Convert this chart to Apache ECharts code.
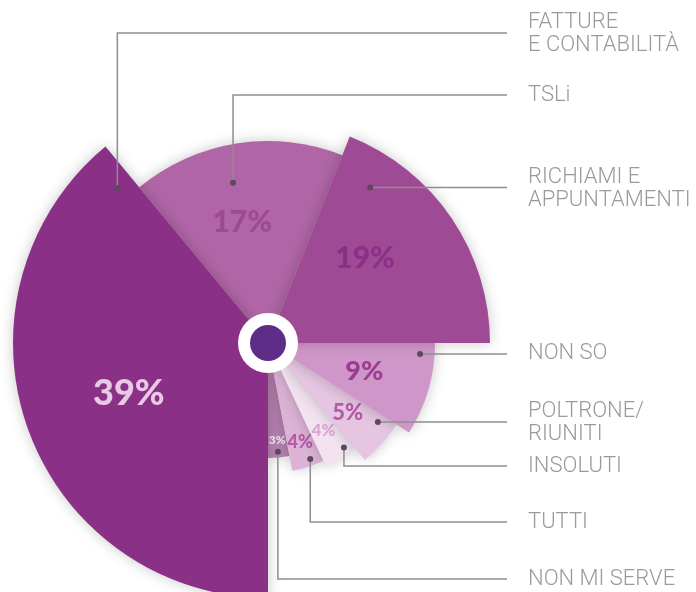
<!DOCTYPE html>
<html>
<head>
<meta charset="utf-8">
<script src="https://cdn.jsdelivr.net/npm/echarts@6/dist/echarts.min.js"></script>
<style>
html, body { margin: 0; padding: 0; background: #fff; }
#main { width: 696px; height: 592px; }
</style>
</head>
<body>
<div id="main"></div>
<script>
// dati
var categories = ['FATTURE\nE CONTABILITÀ', 'TSLi', 'RICHIAMI E\nAPPUNTAMENTI', 'NON SO',
	'POLTRONE/\nRIUNITI', 'INSOLUTI', 'TUTTI', 'NON MI SERVE'];
var values = [39, 17, 19, 9, 5, 4, 4, 3];

// stile
var colors = ['#8b3087', '#b066a6', '#9e4a94', '#cf97c9', '#e5c5e1', '#f3e3f1', '#dcb3d7', '#b682b0'];
var labelColors = ['#e8c9e6', '#9c4a93', '#8a3187', '#9b3d93', '#b35aa8', '#d9a6d3', '#b35aa8', '#f7eaf5'];
var radii = [255, 202, 222, 167, 152, 136, 130, 115];
var fontSizes = [36, 30, 30, 27, 22, 17, 18, 12];
var labelPos = [[0.5, 0.58], [0.45, 0.61], [0.4, 0.58], [0.5, 0.6], [0.5, 0.7], [0.5, 0.76], [0.5, 0.8], [0.5, 0.85]];
var dotPos = [[0.967, 0.847], [0.446, 0.812], [0.171, 0.838], [0.127, 0.913], [0.183, 0.89], [0.25, 0.95], [0.36, 0.95], [0.52, 0.95]];
var textY = [33, 95, null, null, null, 466, 522, 579]; // null = linea orizzontale dal punto
var zOrder = [9, 2, 8, 7, 6, 5, 4, 3];
var center = [268, 343];
var lineEndX = 507, textX = 528;

// angolo (gradi, orario dalle ore 12) di un punto dentro la fetta i
var cum = [];
values.reduce(function (s, v, i) { cum[i] = s; return s + v; }, 0);
function angleOf(i, frac) {
	return 180 + (cum[i] + frac * values[i]) * 3.6;
}
function pointOf(a, r) {
	var rad = a * Math.PI / 180;
	return [center[0] + r * Math.sin(rad), center[1] - r * Math.cos(rad)];
}

var series = values.map(function (v, i) {
	return {
		type: 'pie',
		center: center,
		radius: [0, radii[i]],
		startAngle: -90 - cum[i] * 3.6,
		clockwise: true,
		silent: true,
		animation: false,
		avoidLabelOverlap: false,
		z: zOrder[i],
		label: {
			show: true,
			position: 'inside',
			formatter: '{c}%',
			color: labelColors[i],
			fontFamily: 'Lato',
			fontWeight: 900,
			fontSize: fontSizes[i]
		},
		labelLine: { show: false },
		labelLayout: function (params) {
			if (params.dataIndex !== 0) return {};
			var p = pointOf(angleOf(i, labelPos[i][0]), radii[i] * labelPos[i][1]);
			return { x: p[0], y: p[1], align: 'center', verticalAlign: 'middle' };
		},
		itemStyle: {
			borderWidth: 0,
			shadowBlur: 14,
			shadowColor: 'rgba(0,0,0,0.22)'
		},
		data: [
			{ value: v, name: categories[i], itemStyle: { color: colors[i] } },
			{ value: 100 - v, name: '', label: { show: false },
				itemStyle: { color: 'rgba(0,0,0,0)', shadowBlur: 0, shadowColor: 'rgba(0,0,0,0)' } }
		]
	};
});

// linee guida, punti e testi a destra
var graphics = [];
categories.forEach(function (name, i) {
	var d = pointOf(angleOf(i, dotPos[i][0]), radii[i] * dotPos[i][1]);
	var y = textY[i] == null ? d[1] : textY[i];
	graphics.push({
		type: 'polyline', z: 100, silent: true,
		shape: { points: [d, [d[0], y], [lineEndX, y]] },
		style: { stroke: '#8e8e8e', lineWidth: 1.5, fill: null }
	});
	graphics.push({
		type: 'circle', z: 101, silent: true,
		shape: { cx: d[0], cy: d[1], r: 3 },
		style: { fill: '#5b4a5c' }
	});
	graphics.push({
		type: 'text', z: 100, silent: true,
		style: {
			x: textX, y: y + (name.indexOf('\n') > -1 ? 1 : 0), text: name,
			fill: '#9a9a9a', fontFamily: 'Roboto', fontWeight: 300, fontSize: 22,
			lineHeight: 23, align: 'left', verticalAlign: 'middle'
		}
	});
});
// cerchio centrale
graphics.push({ type: 'circle', z: 102, silent: true, shape: { cx: center[0], cy: center[1], r: 30 }, style: { fill: '#ffffff' } });
graphics.push({ type: 'circle', z: 103, silent: true, shape: { cx: center[0], cy: center[1], r: 18 }, style: { fill: '#5e2d87' } });

var myChart = echarts.init(document.getElementById('main'), null, { renderer: 'canvas' });
myChart.setOption({
	backgroundColor: '#ffffff',
	animation: false,
	series: series,
	graphic: graphics
});
</script>
</body>
</html>
